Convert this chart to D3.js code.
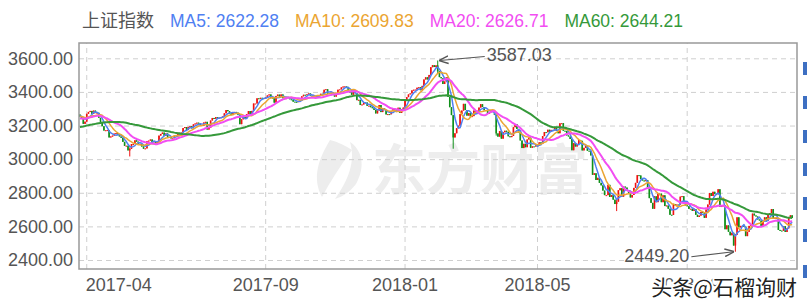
<!DOCTYPE html>
<html>
<head>
<meta charset="utf-8">
<script src="https://cdn.jsdelivr.net/npm/d3@7"></script>
<style>
body{margin:0;background:#fff}
svg{display:block;font-family:"Liberation Sans",Arial,sans-serif}
</style>
</head>
<body>
<svg id="chart" width="807" height="302"></svg>
<script>
// closes before the window, only used to warm up the moving averages (2016-12-26 .. 2017-03-27)
var warmCloses = [3122,3114,3102,3096,3104,
  3135,3158,3165,3154,3171,3161,3136,3119,3112,3103,3108,3113,3101,3123,3136,3142,3149,3159,
  3140,3156,3153,3166,3183,3196,3216,3217,3212,3229,3202,3212,3240,3253,3251,3261,3228,3241,
  3246,3230,3218,3213,3212,3242,3241,3216,3237,3239,3241,3237,3269,3250,3261,3245,3248,3269,3266];

// daily closes of the Shanghai Composite shown in the chart, 2017-03-28 .. 2018-12-05
var closes = [
  3252,3241,3210,3223,                                                                     // 2017-03
  3270,3281,3287,3269,3289,3274,3276,3246,3222,3196,3170,3172,3173,3129,3135,3140,3152,3155, // 2017-04
  3143,3135,3127,3103,3079,3080,3052,3061,3090,3090,3112,3104,3090,3091,3075,3062,3064,3107,3110,3117, // 2017-05
  3102,3105,3092,3103,3140,3150,3158,3139,3153,3130,3132,3123,3124,3140,3144,3157,3147,3158,3185,3191,3173,3192, // 2017-06
  3196,3183,3207,3212,3217,3213,3203,3197,3218,3222,3176,3187,3230,3245,3240,3250,3244,3247,3249,3254,3273, // 2017-07
  3292,3285,3272,3262,3279,3281,3276,3262,3208,3237,3251,3246,3268,3286,3268,3287,3331,3331,3362,3359,3365,3363,3360, // 2017-08
  3367,3379,3385,3366,3365,3336,3376,3384,3372,3385,3362,3357,3370,3367,3356,3352,3342,3341,3339,3345,3349, // 2017-09
  3374,3383,3382,3386,3391,3378,3372,3371,3370,3379,3380,3389,3388,3413,3416,3390,3393, // 2017-10
  3396,3383,3372,3389,3413,3415,3427,3432,3433,3430,3402,3399,3383,3410,3392,3351,3353,3322,3325,3338,3337,3317, // 2017-11
  3318,3309,3303,3293,3272,3289,3322,3280,3303,3292,3266,3268,3267,3287,3300,3297,3280,3306,3275,3297,3307, // 2017-12
  3349,3369,3385,3391,3409,3413,3414,3425,3428,3410,3436,3474,3487,3474,3501,3547,3559,3548,3558,3523,3488,3481, // 2018-01
  3447,3462,3487,3370,3309,3262,3129,3154,3184,3199,3268,3289,3329,3292,3259, // 2018-02
  3274,3254,3256,3289,3271,3288,3307,3327,3310,3291,3292,3270,3279,3290,3281,3263,3153,3134,3167,3122,3160,3169, // 2018-03
  3163,3136,3131,3138,3190,3208,3180,3159,3111,3066,3091,3071,3117,3128,3068,3076,3075,3082, // 2018-04
  3081,3100,3091,3137,3161,3160,3175,3163,3174,3171,3192,3169,3154,3213,3214,3169,3168,3141,3135,3120,3053,3095, // 2018-05
  3075,3091,3114,3109,3052,3067,3079,3050,3049,3022,2907,2916,2876,2889,2859,2844,2813,2786,2786,2847, // 2018-06
  2775,2786,2759,2733,2747,2815,2827,2777,2837,2831,2814,2798,2772,2787,2829,2859,2905,2903,2882,2873,2869,2876, // 2018-07
  2824,2768,2740,2705,2779,2744,2794,2795,2744,2785,2721,2724,2705,2669,2668,2733,2724,2730,2729,2777,2780,2737,2725, // 2018-08
  2720,2704,2705,2692,2703,2669,2656,2664,2686,2681,2651,2700,2730,2798,2781,2806,2792,2791,2821, // 2018-09
  2716,2721,2725,2583,2606,2568,2547,2562,2486,2550,2654,2594,2603,2603,2598,2542,2568,2603, // 2018-10
  2606,2676,2665,2659,2641,2635,2599,2630,2654,2632,2668,2679,2703,2646,2651,2646,2579,2575,2574,2601,2567,2588, // 2018-11
  2655,2666,2650                                                                             // 2018-12
];

// long shadows (index into closes)
var wickIdx  = [29,   208,     217,  242,  312,  381];
var wickHigh = [3070, 3587.03, 3220, 3265, 2760, 2555];
var wickLow  = [3016, 3510,    3062, 3140, 2691, 2449.20];

var xTickIdx = [4, 108, 189, 266, 353];
var xTickLabels = ["2017-04", "2017-09", "2018-01", "2018-05", "2018-09"];
var yTicks = [2400, 2600, 2800, 3000, 3200, 3400, 3600];

var seriesName = "上证指数";
var maNames = ["MA5", "MA10", "MA20", "MA60"];
var maDays = [5, 10, 20, 60];
var maLast = ["2622.28", "2609.83", "2626.71", "2644.21"];
var maColors = ["#4f80f2", "#eba532", "#f24ef2", "#35993a"];

var svg = d3.select("#chart");
var box = {left: 79, top: 43, right: 797, bottom: 269};

var x = d3.scaleBand().domain(d3.range(closes.length)).range([box.left, 793]);
var y = d3.scaleLinear().domain([2400, 3600]).range([260, 58.3]);
var cx = function(i){ return x(i) + x.bandwidth() / 2; };

var all = warmCloses.concat(closes);
var off = warmCloses.length;

var candles = closes.map(function(c, i){
  var o = all[i + off - 1];
  var d = {i: i, o: o, c: c, h: Math.max(o, c), l: Math.min(o, c)};
  var k = wickIdx.indexOf(i);
  if (k >= 0) { d.h = Math.max(d.h, wickHigh[k]); d.l = Math.min(d.l, wickLow[k]); }
  return d;
});

function movingAvg(n){
  return closes.map(function(c, i){
    var j = i + off, s = 0, k = 0;
    for (var m = Math.max(0, j - n + 1); m <= j; m++) { s += all[m]; k++; }
    return s / k;
  });
}

// watermark
var wm = svg.append("g").attr("fill", "#ededed");
wm.append("path").attr("d", "M330,140 C318,160 312,178 322,197 C330,182 340,166 352,150 C346,146 338,142 330,140 Z");
wm.append("path").attr("d", "M350,142 C362,150 366,166 356,184 C350,192 342,197 335,199 C348,180 356,162 350,142 Z");
wm.append("text").attr("x", 372).attr("y", 190).attr("font-size", 54).attr("font-weight", "bold")
  .attr("font-family", "'Noto Sans CJK SC'").text("东方财富");

// grid
svg.append("g").attr("transform", "translate(" + box.left + ",0)")
  .call(d3.axisLeft(y).tickValues(yTicks).tickSize(-(box.right - box.left)).tickFormat(""))
  .call(function(g){
    g.select(".domain").remove();
    g.selectAll("line").attr("stroke", "#cfcfcf").attr("stroke-dasharray", "5,4");
  });
svg.append("g").attr("transform", "translate(0," + box.bottom + ")")
  .call(d3.axisBottom(x).tickValues(xTickIdx).tickSize(-(box.bottom - box.top)).tickFormat(""))
  .call(function(g){
    g.select(".domain").remove();
    g.selectAll("line").attr("stroke", "#cfcfcf").attr("stroke-dasharray", "5,4");
  });

svg.append("clipPath").attr("id", "clip").append("rect")
  .attr("x", box.left).attr("y", box.top).attr("width", box.right - box.left).attr("height", box.bottom - box.top);
var plot = svg.append("g").attr("clip-path", "url(#clip)");

// candles
var up = "#f01010", down = "#10901a";
plot.selectAll(".wick").data(candles).enter().append("line")
  .attr("x1", function(d){ return cx(d.i); }).attr("x2", function(d){ return cx(d.i); })
  .attr("y1", function(d){ return y(d.h); }).attr("y2", function(d){ return y(d.l); })
  .attr("stroke", function(d){ return d.c >= d.o ? up : down; }).attr("stroke-width", 1);
plot.selectAll(".body").data(candles).enter().append("rect")
  .attr("x", function(d){ return cx(d.i) - 0.8; }).attr("width", 1.6)
  .attr("y", function(d){ return y(Math.max(d.o, d.c)); })
  .attr("height", function(d){ return Math.max(1, Math.abs(y(d.o) - y(d.c))); })
  .attr("fill", function(d){ return d.c >= d.o ? up : down; });

// moving averages
var line = d3.line().x(function(d, i){ return cx(i); }).y(function(d){ return y(d); });
maDays.forEach(function(n, k){
  plot.append("path").datum(movingAvg(n)).attr("d", line).attr("fill", "none")
    .attr("stroke", maColors[k]).attr("stroke-width", k >= 2 ? 2 : 1.5).attr("stroke-linejoin", "round");
});

// frame
svg.append("rect").attr("x", box.left).attr("y", box.top)
  .attr("width", box.right - box.left).attr("height", box.bottom - box.top)
  .attr("fill", "none").attr("stroke", "#999").attr("stroke-width", 1.5);

// axes labels
svg.append("g").attr("transform", "translate(" + box.left + ",0)")
  .call(d3.axisLeft(y).tickValues(yTicks).tickSize(0).tickPadding(6).tickFormat(d3.format(".2f")))
  .call(function(g){
    g.select(".domain").remove();
    g.selectAll("text").attr("font-size", 18).attr("fill", "#555").attr("font-family", "'Liberation Sans',Arial");
  });
svg.append("g").attr("transform", "translate(0," + box.bottom + ")")
  .call(d3.axisBottom(x).tickValues(xTickIdx).tickSize(0).tickPadding(9)
    .tickFormat(function(d){ return xTickLabels[xTickIdx.indexOf(d)]; }))
  .call(function(g){
    g.select(".domain").remove();
    g.selectAll("text").attr("font-size", 18).attr("fill", "#555").attr("font-family", "'Liberation Sans',Arial")
      .attr("text-anchor", function(d, i){ return i === 0 ? "start" : "middle"; })
      .attr("x", function(d, i){ return i === 0 ? -1 : 0; });
  });

// legend
var lx = 82;
var t0 = svg.append("text").attr("x", lx).attr("y", 27).attr("font-size", 18).attr("fill", "#555")
  .attr("font-family", "'Noto Sans CJK SC'").text(seriesName);
lx += t0.node().getComputedTextLength() + 16;
maNames.forEach(function(nm, k){
  var t = svg.append("text").attr("x", lx).attr("y", 27).attr("font-size", 17.5).attr("fill", maColors[k])
    .text(nm + ": " + maLast[k]);
  lx += t.node().getComputedTextLength() + 16;
});

// max / min markers
var hi = d3.greatest(candles, function(d){ return d.h; });
var lo = d3.least(candles, function(d){ return d.l; });
svg.append("defs").append("marker").attr("id", "arr").attr("viewBox", "0 0 10 10")
  .attr("refX", 9).attr("refY", 5).attr("markerWidth", 8).attr("markerHeight", 8).attr("orient", "auto")
  .append("path").attr("d", "M0,1 L10,5 L0,9").attr("fill", "none").attr("stroke", "#555").attr("stroke-width", 1.5);
svg.append("line").attr("x1", cx(hi.i) + 47).attr("y1", y(hi.h) - 4).attr("x2", cx(hi.i) + 2).attr("y2", y(hi.h))
  .attr("stroke", "#555").attr("stroke-width", 1.2).attr("marker-end", "url(#arr)");
svg.append("text").attr("x", cx(hi.i) + 49).attr("y", y(hi.h) + 0.5).attr("font-size", 18).attr("fill", "#555")
  .text(d3.format(".2f")(hi.h));
svg.append("line").attr("x1", cx(lo.i) - 44).attr("y1", y(lo.l) + 5).attr("x2", cx(lo.i) - 2).attr("y2", y(lo.l))
  .attr("stroke", "#555").attr("stroke-width", 1.2).attr("marker-end", "url(#arr)");
svg.append("text").attr("x", cx(lo.i) - 46).attr("y", y(lo.l) + 10).attr("font-size", 18).attr("fill", "#555")
  .attr("text-anchor", "end").text(d3.format(".2f")(lo.l));

// cut-off page elements at the right edge
[62, 96, 130, 163, 197, 229, 265].forEach(function(v){
  svg.append("rect").attr("x", 803).attr("y", v).attr("width", 4).attr("height", 13).attr("fill", "#3d6fc2");
});

// repost watermark
svg.append("text").attr("x", 797).attr("y", 295).attr("text-anchor", "end").attr("font-size", 21)
  .attr("font-family", "'Noto Sans CJK SC'").attr("fill", "#222").attr("stroke", "#fff").attr("stroke-width", 4)
  .attr("paint-order", "stroke").text("头条@石榴询财");
</script>
</body>
</html>
